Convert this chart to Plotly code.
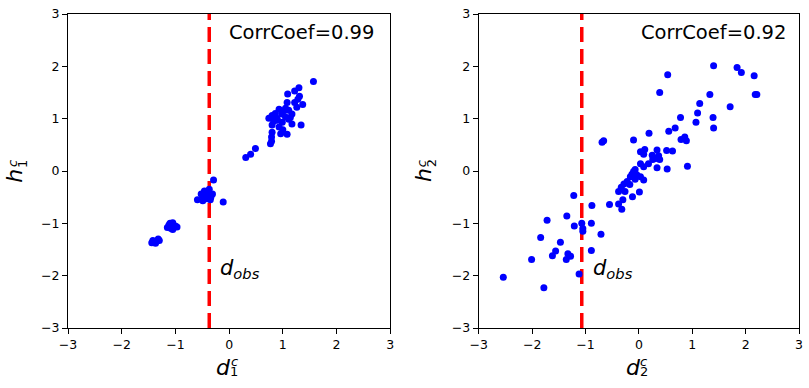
import plotly.graph_objects as go

# ---------------- data ----------------
d1 = [1.57, 1.30, 1.22, 1.31, 1.09, 1.28, 1.37, 1.22, 1.08, 1.26, 0.93, 1.02, 1.11, 0.86,
      0.98, 1.17, 0.80, 1.05, 0.74, 0.89, 1.11, 0.83, 0.99, 1.17, 1.34, 0.80, 0.93, 1.00,
      0.80, 0.96, 1.08, 0.79, 0.79, 0.77, 0.49, 0.40, 0.31, 1.05, 0.90, 1.14,
      -0.29, -0.46, -0.37, -0.40, -0.49, -0.59, -0.31, -0.43, -0.34, -0.11, -0.52, -0.43,
      -0.49, -0.38, -0.45, -0.35,
      -1.12, -1.05, -1.00, -1.08, -1.15, -0.97, -1.05, -1.10, -1.07, -1.03,
      -1.44, -1.40, -1.35, -1.32, -1.30, -1.42, -1.37, -1.39]
h1 = [1.71, 1.59, 1.53, 1.43, 1.47, 1.37, 1.27, 1.31, 1.31, 1.22, 1.18, 1.15, 1.16, 1.10,
      1.09, 1.09, 1.06, 1.03, 1.01, 1.01, 0.99, 0.95, 0.93, 0.90, 0.88, 0.88, 0.84, 0.79,
      0.74, 0.71, 0.70, 0.65, 0.57, 0.52, 0.43, 0.32, 0.26, 1.20, 0.97, 1.02,
      -0.17, -0.38, -0.35, -0.44, -0.48, -0.55, -0.44, -0.53, -0.50, -0.59, -0.44, -0.40,
      -0.57, -0.47, -0.42, -0.55,
      -1.03, -0.99, -1.05, -1.10, -1.08, -1.07, -1.12, -1.00, -1.04, -1.08,
      -1.37, -1.35, -1.34, -1.30, -1.33, -1.33, -1.38, -1.36]

d2 = [1.40, 1.84, 1.92, 2.16, 0.54, 0.39, 2.18, 2.21, 1.33, 1.71, 1.14, 1.10, 0.78, 1.39,
      1.07, 1.40, 0.68, 0.56, 0.19, 0.86, 0.89, 0.79, -0.69, -0.66, -0.10, 0.52, 0.63,
      0.34, 0.03, 0.11, 0.09, 0.25, 0.37, 0.32, 0.39, 0.26, 0.18, 0.03, 0.34, 0.53, 0.91,
      0.09, -0.07, -0.10, -0.13, -0.04, 0.03, -0.16, -0.07, 0.09, -0.22, -0.17, -0.28,
      -0.33, -0.38, -0.26, 0.01, -0.12, -0.30, -0.38, -0.55, -0.32, -0.88, -1.22, -1.35,
      -1.72, -1.07, -0.89, -1.21, -1.05, -1.05, -0.71, -1.84, -1.47, -1.56, -1.62, -0.89,
      -1.33, -1.28, -1.36, -2.01, -1.12, -2.54, -1.78]
h2 = [2.01, 1.98, 1.88, 1.82, 1.84, 1.50, 1.46, 1.46, 1.46, 1.23, 1.29, 1.11, 1.02, 1.02,
      0.93, 0.82, 0.82, 0.76, 0.72, 0.65, 0.58, 0.60, 0.55, 0.58, 0.59, 0.39, 0.38,
      0.40, 0.37, 0.41, 0.32, 0.30, 0.29, 0.24, 0.22, 0.22, 0.14, 0.14, 0.06, 0.04, 0.09,
      0.08, 0.03, -0.01, -0.06, -0.07, -0.11, -0.11, -0.16, -0.17, -0.20, -0.26, -0.25,
      -0.31, -0.39, -0.39, -0.40, -0.49, -0.55, -0.63, -0.64, -0.73, -0.66, -0.47, -0.86,
      -0.94, -1.00, -1.00, -1.05, -1.10, -1.15, -1.21, -1.27, -1.36, -1.53, -1.62, -1.52,
      -1.58, -1.63, -1.69, -1.69, -1.97, -2.03, -2.23]

dobs = [-0.37, -1.07]
corr_labels = ["CorrCoef=0.99", "CorrCoef=0.92"]
x_subs = ["1", "2"]
ticks = [-3, -2, -1, 0, 1, 2, 3]
tick_text = ["\u22123", "\u22122", "\u22121", "0", "1", "2", "3"]

# ---------------- figure ----------------
W, H = 809, 388
L, R, T, B = 68, 6, 7, 60
PW, PH = W - L - R, H - T - B

def pp(px, py):
    return (px - L) / PW, (H - B - py) / PH

FONT = "DejaVu Sans"
fig = go.Figure()

for i, (dx, hy) in enumerate([(d1, h1), (d2, h2)]):
    xa = "x" if i == 0 else "x2"
    ya = "y" if i == 0 else "y2"
    fig.add_trace(go.Scatter(x=[dobs[i], dobs[i]], y=[-3, 3], mode="lines",
                             line=dict(color="#ff0000", width=3.5, dash="15px,7px"),
                             xaxis=xa, yaxis=ya, showlegend=False, hoverinfo="skip"))
    fig.add_trace(go.Scatter(x=dx, y=hy, mode="markers",
                             marker=dict(color="#0000ff", size=7, line=dict(width=0)),
                             xaxis=xa, yaxis=ya, showlegend=False))

axis_common = dict(range=[-3, 3], tickvals=ticks, ticktext=tick_text, ticks="outside",
                   ticklen=5, tickwidth=1, tickcolor="black", showline=True, linecolor="black",
                   linewidth=1, mirror=True, showgrid=False, zeroline=False,
                   ticklabeloverflow="allow",
                   tickfont=dict(family=FONT, size=12.5, color="black"))

d_left = (392 - L) / PW
d_right = (481 - L) / PW
fig.update_layout(
    width=W, height=H, margin=dict(l=L, r=R, t=T, b=B),
    paper_bgcolor="white", plot_bgcolor="white",
    xaxis=dict(domain=[0, d_left], anchor="y", **axis_common),
    yaxis=dict(domain=[0, 1], anchor="x", **axis_common),
    xaxis2=dict(domain=[d_right, 1], anchor="y2", **axis_common),
    yaxis2=dict(domain=[0, 1], anchor="x2", **axis_common),
)

ann = []
# CorrCoef labels
for cx, lab in zip([303, 717], corr_labels):
    x, y = pp(cx, 26)
    ann.append(dict(x=x, y=y, xref="paper", yref="paper", text=lab, showarrow=False,
                    xanchor="center", yanchor="middle",
                    font=dict(family=FONT, size=19.5, color="black")))
# d_obs labels
for i in range(2):
    ann.append(dict(x=dobs[i], y=-1.87, xref="x" if i == 0 else "x2", yref="y" if i == 0 else "y2",
                    text="<i>d</i><sub><i>obs</i></sub>", showarrow=False, xanchor="left",
                    yanchor="middle", xshift=9,
                    font=dict(family=FONT, size=21, color="black")))
# x axis titles
for i, dxc in enumerate([224.5, 636.5]):
    x, y = pp(dxc, 368)
    ann.append(dict(x=x, y=y, xref="paper", yref="paper", text="<i>d</i>", showarrow=False,
                    xanchor="center", yanchor="middle", borderpad=0,
                    font=dict(family=FONT, size=22, color="black")))
    x, y = pp(dxc + 10.5, 362)
    ann.append(dict(x=x, y=y, xref="paper", yref="paper", text="<i>c</i>", showarrow=False,
                    xanchor="center", yanchor="middle", borderpad=0,
                    font=dict(family=FONT, size=13, color="black")))
    x, y = pp(dxc + 10.5, 372.5)
    ann.append(dict(x=x, y=y, xref="paper", yref="paper", text=x_subs[i], showarrow=False,
                    xanchor="center", yanchor="middle", borderpad=0,
                    font=dict(family=FONT, size=13, color="black")))
# y axis titles
for i, hxc in enumerate([14, 425.5]):
    x, y = pp(hxc, 172)
    ann.append(dict(x=x, y=y, xref="paper", yref="paper", text="<i>h</i>", showarrow=False,
                    textangle=-90, xanchor="center", yanchor="middle", borderpad=0,
                    font=dict(family=FONT, size=22, color="black")))
    x, y = pp(hxc - 2, 160)
    ann.append(dict(x=x, y=y, xref="paper", yref="paper", text="<i>c</i>", showarrow=False,
                    textangle=-90, xanchor="center", yanchor="middle", borderpad=0,
                    font=dict(family=FONT, size=13, color="black")))
    x, y = pp(hxc + 8, 160)
    ann.append(dict(x=x, y=y, xref="paper", yref="paper", text=x_subs[i], showarrow=False,
                    textangle=-90, xanchor="center", yanchor="middle", borderpad=0,
                    font=dict(family=FONT, size=13, color="black")))

fig.update_layout(annotations=ann)
fig.write_html("out.html", config={"displayModeBar": False},
               post_script="document.body.style.margin='0px';document.body.style.overflow='hidden';")
